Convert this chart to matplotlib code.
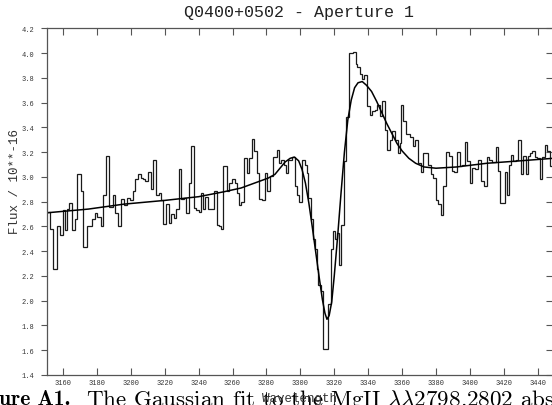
import matplotlib
matplotlib.use("Agg")
import matplotlib.pyplot as plt

plt.rcParams['mathtext.fontset'] = 'cm'

# left edge of each spectrum bin (Angstrom) and its flux
hist_wave = [3150.7, 3152.3, 3154.3, 3156.7, 3158.2, 3159.8, 3161.0, 3162.5, 3163.7, 3165.3,
             3166.9, 3168.4, 3170.4, 3172.0, 3174.0, 3177.1, 3178.7, 3180.2, 3182.2, 3183.8,
             3185.3, 3187.3, 3189.3, 3190.8, 3192.4, 3194.4, 3196.0, 3197.9, 3199.5, 3201.1,
             3202.6, 3204.2, 3205.8, 3207.0, 3208.5, 3210.1, 3211.7, 3213.3, 3214.8, 3216.4,
             3218.0, 3219.2, 3220.7, 3222.3, 3223.9, 3225.4, 3226.6, 3228.2, 3229.8, 3231.3,
             3232.5, 3234.1, 3235.7, 3237.2, 3238.6, 3240.0, 3241.2, 3242.7, 3243.9, 3245.5,
             3249.0, 3250.6, 3251.8, 3253.3, 3254.5, 3256.5, 3258.1, 3259.6, 3261.2, 3262.4,
             3263.6, 3265.1, 3266.7, 3268.3, 3269.9, 3271.4, 3272.6, 3274.2, 3275.8, 3277.3,
             3278.9, 3280.5, 3282.0, 3283.6, 3286.2, 3287.5, 3288.7, 3290.3, 3291.5, 3293.0,
             3295.2, 3296.6, 3298.0, 3299.0, 3300.9, 3302.5, 3303.9, 3304.8, 3306.2, 3307.3,
             3308.4, 3309.6, 3310.6, 3312.0, 3313.5, 3316.4, 3317.8, 3319.0, 3320.4, 3321.6,
             3322.8, 3324.2, 3325.6, 3327.0, 3328.6, 3331.2, 3332.6, 3333.7, 3335.1, 3336.5,
             3337.7, 3339.6, 3341.0, 3342.4, 3344.0, 3345.5, 3346.9, 3348.3, 3349.9, 3351.4,
             3352.8, 3354.2, 3355.7, 3357.3, 3358.7, 3359.2, 3360.8, 3362.4, 3364.8, 3366.3,
             3367.6, 3369.5, 3370.9, 3372.5, 3375.4, 3376.8, 3378.3, 3379.9, 3381.3, 3382.7,
             3384.2, 3385.8, 3387.5, 3389.2, 3390.9, 3392.5, 3394.1, 3395.5, 3397.0, 3398.0,
             3400.0, 3401.5, 3402.9, 3404.5, 3406.4, 3408.4, 3409.8, 3411.2, 3413.0, 3415.1,
             3416.7, 3417.8, 3420.6, 3422.0, 3423.2, 3424.1, 3425.5, 3427.0, 3428.4, 3430.0,
             3431.4, 3432.8, 3434.0, 3435.3, 3436.7, 3438.3, 3439.8, 3441.2, 3442.6, 3444.2,
             3445.7, 3447.1]
hist_end = 3449.0
hist_flux = [2.72, 2.58, 2.26, 2.60, 2.53, 2.73, 2.57, 2.74, 2.79, 2.57,
             2.66, 3.02, 2.89, 2.43, 2.60, 2.66, 2.71, 2.68, 2.60, 2.85,
             3.17, 2.76, 2.85, 2.71, 2.60, 2.82, 2.77, 2.83, 2.81, 2.89,
             2.98, 3.02, 2.99, 2.98, 2.97, 3.04, 2.90, 3.14, 2.85, 2.87,
             2.81, 2.62, 2.78, 2.63, 2.70, 2.67, 2.74, 3.06, 2.82, 2.83,
             2.71, 2.95, 3.25, 2.75, 2.73, 2.72, 2.87, 2.74, 2.84, 2.74,
             2.89, 2.61, 2.60, 2.58, 3.09, 2.89, 2.95, 2.98, 2.95, 2.87,
             2.77, 2.80, 3.15, 3.03, 3.15, 3.31, 3.21, 3.03, 2.82, 2.81,
             3.03, 2.89, 3.01, 3.16, 3.22, 3.11, 3.14, 3.10, 3.03, 3.14,
             3.16, 2.93, 2.85, 2.80, 3.14, 3.10, 3.03, 2.83, 2.66, 2.50,
             2.42, 2.26, 2.13, 2.08, 1.61, 1.97, 2.42, 2.56, 2.50, 2.55,
             2.29, 2.61, 3.13, 3.48, 4.00, 4.01, 3.91, 3.89, 3.83, 3.79,
             3.82, 3.57, 3.50, 3.53, 3.54, 3.58, 3.49, 3.61, 3.38, 3.22,
             3.30, 3.37, 3.30, 3.19, 3.27, 3.58, 3.45, 3.35, 3.32, 3.25,
             3.30, 3.11, 3.04, 3.19, 3.10, 3.02, 2.99, 2.81, 2.78, 2.69,
             2.93, 3.20, 3.17, 3.05, 3.04, 3.20, 3.09, 3.10, 3.28, 3.13,
             2.95, 3.07, 3.06, 3.14, 2.97, 2.93, 3.16, 3.14, 3.12, 3.24,
             3.05, 2.79, 3.04, 2.85, 3.10, 3.18, 3.13, 3.14, 3.30, 3.02,
             3.17, 3.02, 3.17, 3.19, 3.21, 3.16, 3.15, 2.98, 3.16, 3.26,
             3.21, 3.09]

# fitted profile, points
fit_wave = [3150.6, 3175, 3196, 3220, 3240, 3255, 3265, 3275, 3281, 3285,
            3288, 3291, 3294, 3296.5, 3299, 3301, 3303, 3305, 3307, 3309,
            3311, 3313, 3314.5, 3315.7, 3317, 3318.5, 3320, 3322, 3324, 3326,
            3328, 3330, 3332, 3334, 3336.5, 3339, 3342, 3345, 3348, 3351,
            3354, 3357, 3360, 3364, 3368, 3373, 3380, 3392, 3410, 3430, 3449]
fit_flux = [2.71, 2.74, 2.78, 2.81, 2.84, 2.88, 2.91, 2.96, 2.99, 3.02,
            3.07, 3.12, 3.15, 3.16, 3.13, 3.06, 2.95, 2.79, 2.60, 2.40,
            2.20, 2.01, 1.90, 1.85, 1.88, 1.99, 2.20, 2.52, 2.87, 3.20,
            3.46, 3.62, 3.72, 3.76, 3.77, 3.74, 3.69, 3.61, 3.52, 3.43,
            3.35, 3.27, 3.21, 3.15, 3.11, 3.08, 3.07, 3.08, 3.11, 3.13, 3.15]

x_ticks = [3160, 3180, 3200, 3220, 3240, 3260, 3280, 3300, 3320, 3340, 3360, 3380, 3400, 3420, 3440]
y_ticks = [1.4, 1.6, 1.8, 2.0, 2.2, 2.4, 2.6, 2.8, 3.0, 3.2, 3.4, 3.6, 3.8, 4.0, 4.2]

W, H = 552, 406
fig = plt.figure(figsize=(W / 100, H / 100), dpi=100)
ax = fig.add_axes([47 / W, 30 / H, 506 / W, 346.7 / H])

spine_col = '#555555'
ax.stairs(hist_flux, hist_wave + [hist_end], baseline=None, color='#1a1a1a', lw=0.9)
ax.plot(fit_wave, fit_flux, color='black', lw=1.1)

ax.set_xlim(3150.6, 3449.0)
ax.set_ylim(1.4, 4.2)
ax.set_xticks(x_ticks)
ax.set_yticks(y_ticks)
ax.set_yticklabels(['%.1f' % v for v in y_ticks])
for s in ax.spines.values():
    s.set_color(spine_col)
    s.set_linewidth(0.9)

mono = 'Liberation Mono'
ax.tick_params(axis='x', which='both', direction='in', top=True, length=5,
               width=0.8, color=spine_col, pad=3, labelsize=5, labelcolor='#333333')
ax.tick_params(axis='y', which='both', direction='out', length=4, width=0.8,
               color=spine_col, pad=5, labelsize=5, labelcolor='#333333')
for lab in ax.get_xticklabels() + ax.get_yticklabels():
    lab.set_family(mono)

right = ax.secondary_yaxis('right')
right.set_yticks(y_ticks)
right.tick_params(direction='in', length=5, width=0.8, color=spine_col, labelright=False)
right.spines['right'].set_color(spine_col)

fig.text(299 / W, 1 - 12 / H, 'Q0400+0502 - Aperture 1', family=mono, fontsize=12,
         ha='center', va='center', color='#222222')
fig.text(15 / W, 1 - 182 / H, 'Flux / 10**-16', family=mono, fontsize=9,
         rotation=90, ha='center', va='center', color='#333333')

# caption from the paper, cut by the crop
fig.text(-1 / W, 0.5 / H, 'ure A1.', family='cmb10', fontsize=15.5,
         ha='left', va='baseline', color='black')
fig.text(86 / W, 0.5 / H, r'The Gaussian fit to the MgII $\lambda\lambda$2798,2802 abs',
         family='cmr10', fontsize=16.6, ha='left', va='baseline', color='black')

fig.text(299 / W, 1 - 399 / H, 'Wavelength', family=mono, fontsize=9,
         ha='center', va='center', color='#333333')

fig.savefig('out.png', dpi=100)
